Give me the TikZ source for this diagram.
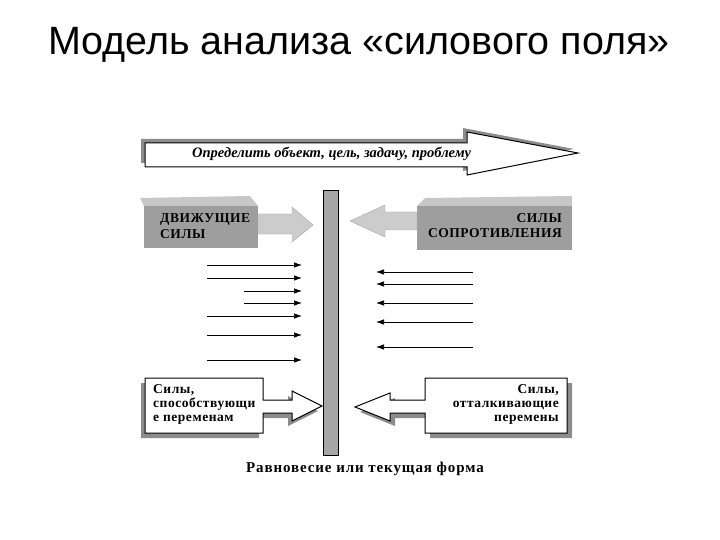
\documentclass[tikz,border=0pt]{standalone}
\usepackage{fontspec}
\setmainfont{Liberation Serif}
\newfontfamily\titlefont{Liberation Sans}
\newfontfamily\boxfont[LetterSpace=4]{Liberation Serif}
\newfontfamily\capfont[LetterSpace=6]{Liberation Serif}
\usetikzlibrary{arrows.meta}
\begin{document}
\begin{tikzpicture}[x=1pt,y=-1pt,
  outline/.style={draw=black,line width=1pt,fill=white},
  shade/.style={fill=black!45,draw=none},
  block/.style={fill=black!38,draw=none},
  blocktop/.style={fill=black!22,draw=none},
  blockarrow/.style={fill=black!20,draw=black!35,line width=0.4pt},
  btxt/.style={font=\boxfont\bfseries\fontsize{13.5}{14}\selectfont,inner sep=0pt,align=left},
  force/.style={line width=0.7pt,-{Latex[length=8pt,width=5.5pt]}}]
\useasboundingbox (0,0) rectangle (720,540);
% title
\node[font=\titlefont\fontsize{39.5}{44}\selectfont,inner sep=0pt] (title) at (359,45) {Модель анализа «силового поля»};
% top arrow
\fill[shade,shift={(-4,-4)}] (145,143) -- (467,143) -- (467,132) -- (578,153) -- (467,175) -- (467,167) -- (145,167) -- cycle;
\path[outline] (145,143) -- (467,143) -- (467,132) -- (578,153) -- (467,175) -- (467,167) -- (145,167) -- cycle;
\node[font=\bfseries\itshape\fontsize{14.5}{16}\selectfont,inner sep=0pt,anchor=west] (goal) at (192,154) {Определить объект, цель, задачу, проблему};
% vertical bar
\node[draw=black,line width=0.8pt,fill=black!35,minimum width=15pt,minimum height=265pt,inner sep=0pt] (bar) at (330.5,322.5) {};
% left gray block
\fill[blocktop] (140,198) -- (250,196) -- (258,206) -- (144,206) -- cycle;
\fill[block] (144,206) -- (258,206) -- (258,248) -- (144,248) -- cycle;
\path[blockarrow] (258,214) -- (292,214) -- (292,207) -- (313,225) -- (292,242) -- (292,234) -- (258,234) -- cycle;
\node[btxt,anchor=west,font=\boxfont\bfseries\fontsize{13.5}{16}\selectfont] (drv) at (160,226) {ДВИЖУЩИЕ\\СИЛЫ};
% right gray block
\fill[blocktop] (425,198) -- (572,196) -- (572,206) -- (417,206) -- cycle;
\fill[block] (417,206) -- (572,206) -- (572,250) -- (417,250) -- cycle;
\path[blockarrow] (417,212) -- (385,212) -- (385,205) -- (350,221) -- (385,237) -- (385,230) -- (417,230) -- cycle;
\node[btxt,anchor=east,align=right,font=\boxfont\bfseries\fontsize{13.5}{15}\selectfont] (res) at (562,226) {СИЛЫ\\СОПРОТИВЛЕНИЯ};
% left force arrows
\foreach \i/\xs/\yy in {1/207/265,2/207/278,3/244/291,4/244/303,5/207/316,6/207/335,7/207/360}{
  \coordinate (ls\i) at (\xs,\yy);
  \coordinate (le\i) at (302,\yy);
  \draw[force] (ls\i) -- (le\i);
}
% right force arrows
\foreach \i/\yy in {1/272,2/284,3/303,4/322,5/347}{
  \coordinate (rs\i) at (473,\yy);
  \coordinate (re\i) at (376,\yy);
  \draw[force] (rs\i) -- (re\i);
}
% bottom left box
\fill[shade,shift={(-4,5)}] (145,378) -- (263,378) -- (263,400) -- (292,400) -- (292,391) -- (322,406) -- (292,421) -- (292,413) -- (263,413) -- (263,433) -- (145,433) -- cycle;
\path[outline] (145,378) -- (263,378) -- (263,400) -- (292,400) -- (292,391) -- (322,406) -- (292,421) -- (292,413) -- (263,413) -- (263,433) -- (145,433) -- cycle;
\node[btxt,anchor=west] (help) at (153,404) {Силы,\\способствующи\\е переменам};
% bottom right box
\fill[shade,shift={(5,5)}] (567,378) -- (425,378) -- (425,400) -- (390,400) -- (390,393) -- (355,407) -- (390,421) -- (390,413) -- (425,413) -- (425,433) -- (567,433) -- cycle;
\path[outline] (567,378) -- (425,378) -- (425,400) -- (390,400) -- (390,393) -- (355,407) -- (390,421) -- (390,413) -- (425,413) -- (425,433) -- (567,433) -- cycle;
\node[btxt,anchor=east,align=right] (hind) at (559,404) {Силы,\\отталкивающие\\перемены};
% bottom caption
\node[font=\capfont\bfseries\fontsize{15}{17}\selectfont,inner sep=0pt] (eq) at (365,469) {Равновесие или текущая форма};
\end{tikzpicture}
\end{document}
